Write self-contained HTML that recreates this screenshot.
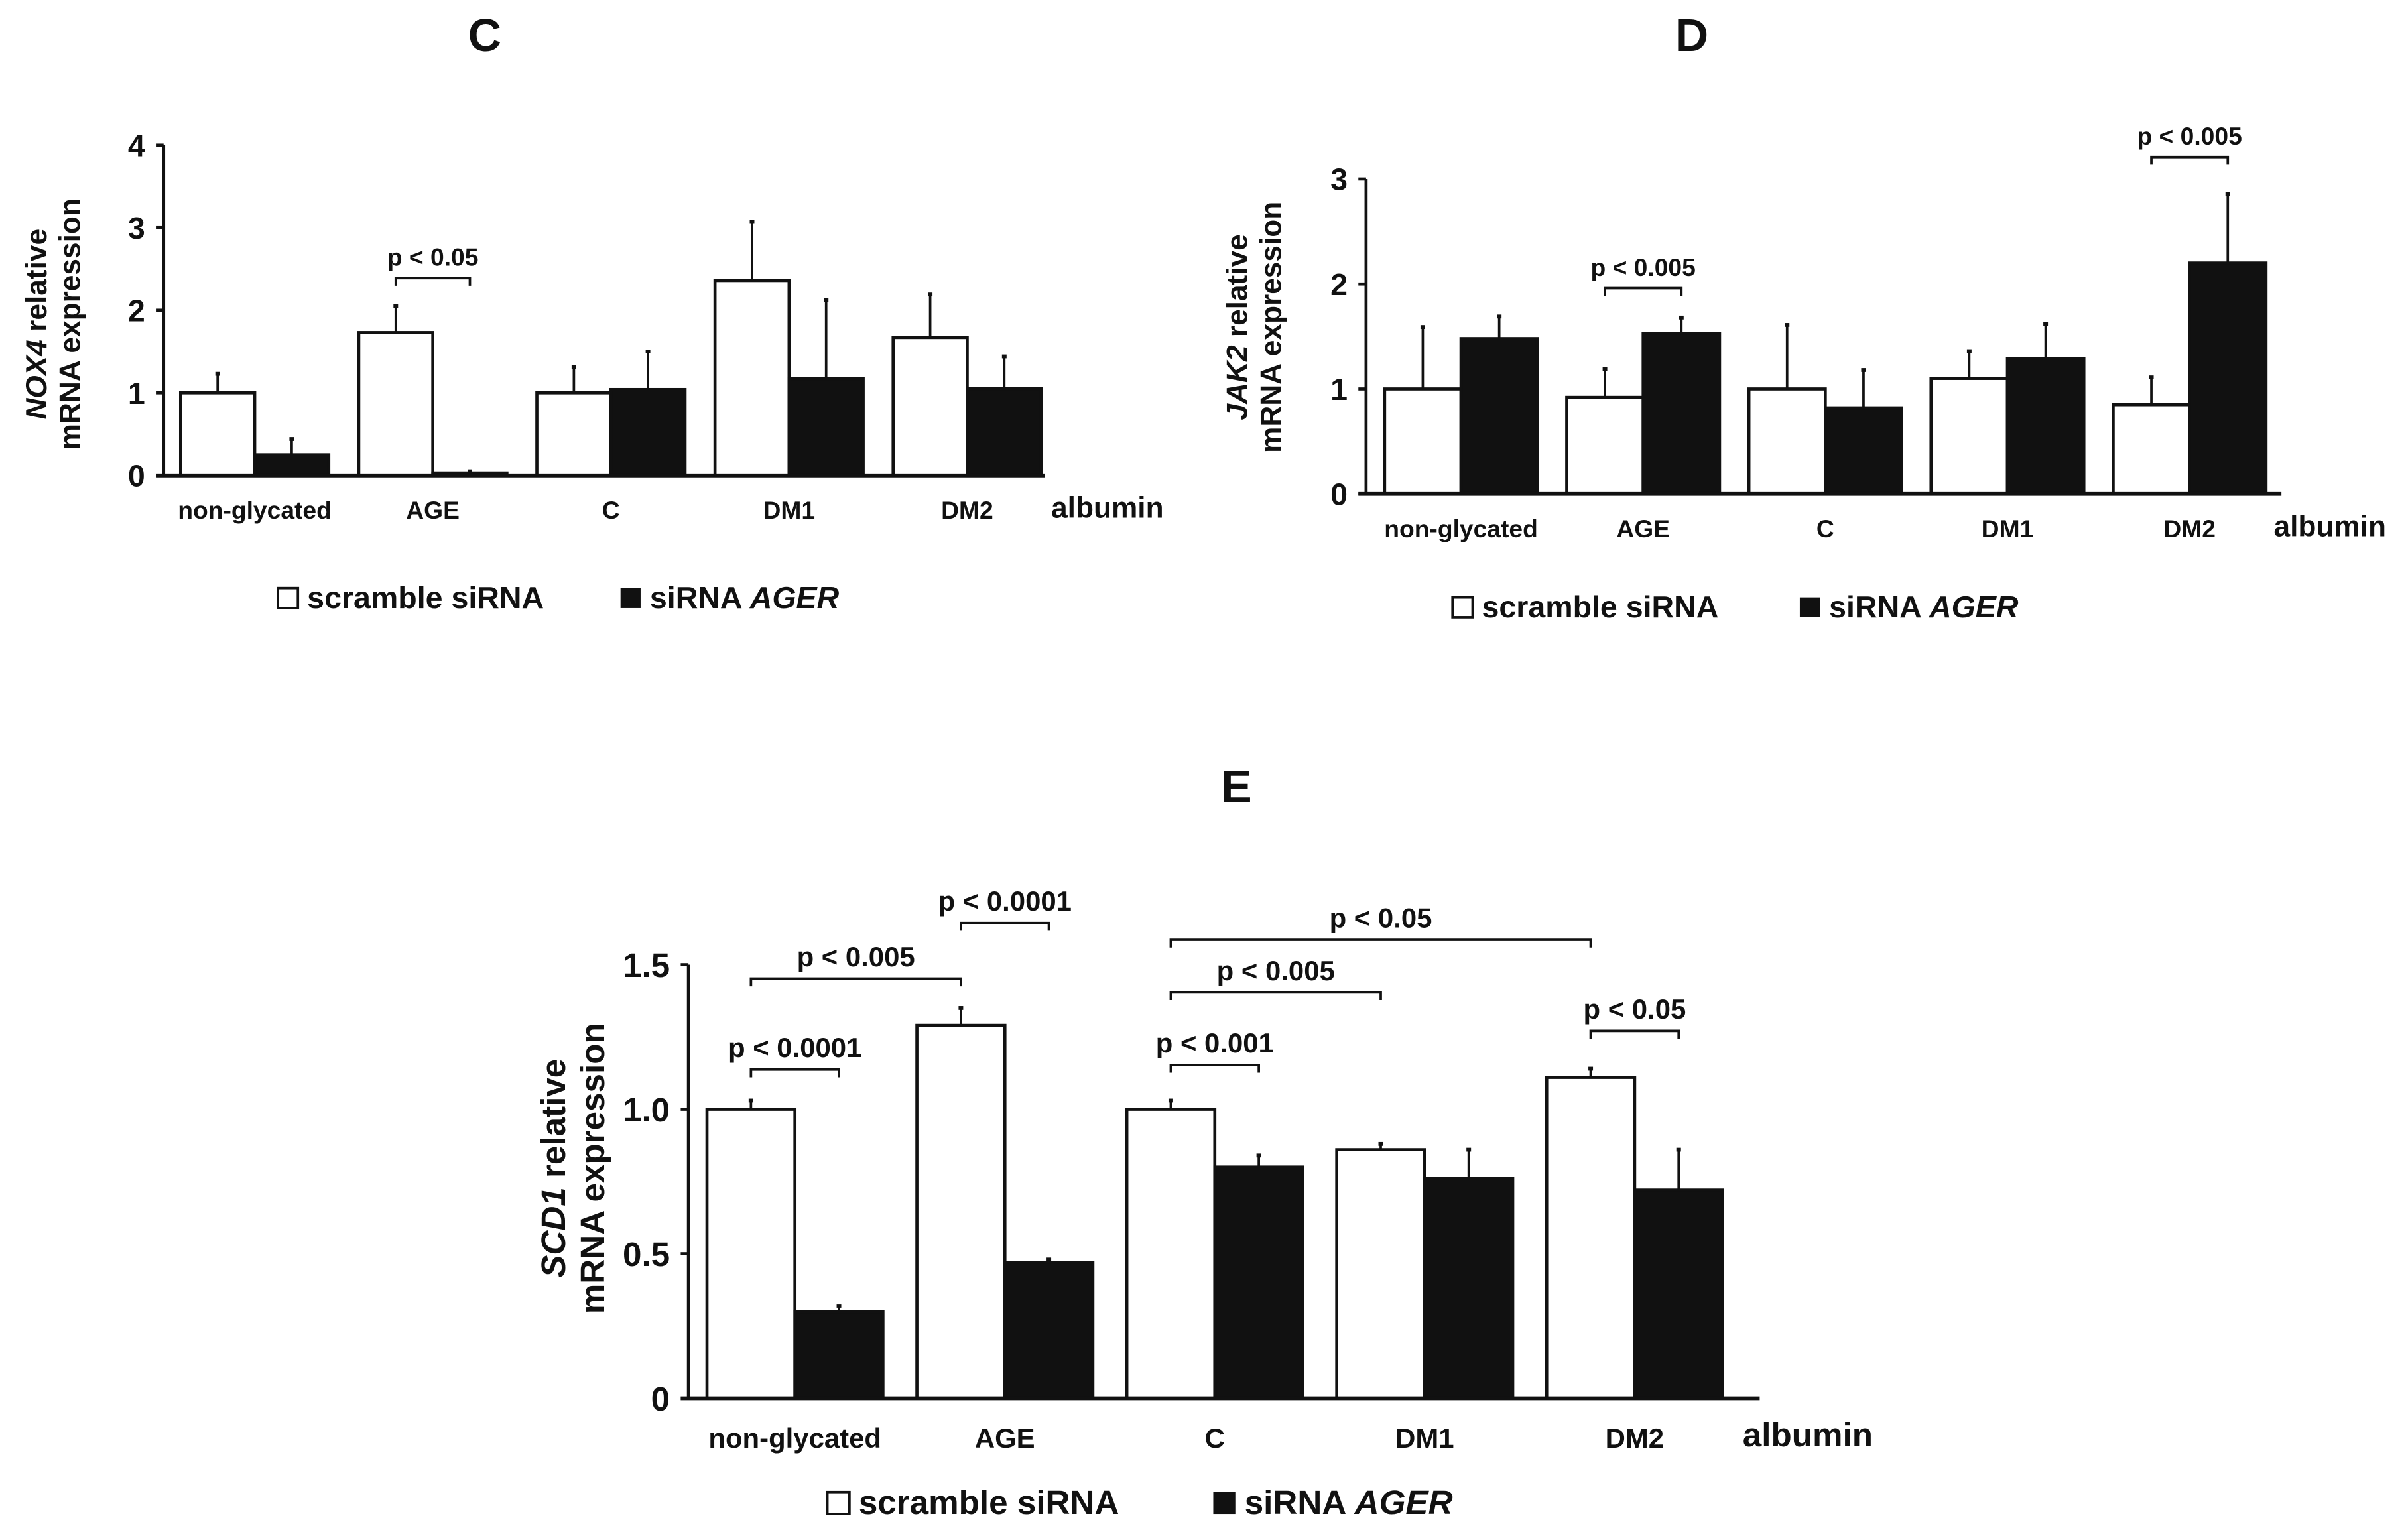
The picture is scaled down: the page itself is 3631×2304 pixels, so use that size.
<!DOCTYPE html>
<html><head><meta charset="utf-8"><style>
html,body{margin:0;padding:0;background:#fff;}
svg{display:block;}
text{font-family:"Liberation Sans",Arial,sans-serif;font-weight:bold;fill:#111;}
</style></head><body>
<svg id="fig" width="3631" height="2304" viewBox="0 0 1560 990" preserveAspectRatio="none" xmlns="http://www.w3.org/2000/svg"></svg>
<script>
const categories = ["non-glycated","AGE","C","DM1","DM2"];
// Panel C (NOX4)
const cScramble = [1.0, 1.73, 1.0, 2.36, 1.67];
const cScrambleErr = [0.23, 0.32, 0.31, 0.71, 0.52];
const cAger = [0.25, 0.03, 1.04, 1.17, 1.05];
const cAgerErr = [0.19, 0.02, 0.46, 0.95, 0.39];
const cTicks = ["0","1","2","3","4"];
const cTickVals = [0,1,2,3,4];
// Panel D (JAK2)
const dScramble = [1.0, 0.92, 1.0, 1.1, 0.85];
const dScrambleErr = [0.59, 0.27, 0.61, 0.26, 0.26];
const dAger = [1.48, 1.53, 0.82, 1.29, 2.2];
const dAgerErr = [0.21, 0.15, 0.36, 0.33, 0.66];
const dTicks = ["0","1","2","3"];
const dTickVals = [0,1,2,3];
// Panel E (SCD1)
const eScramble = [1.0, 1.29, 1.0, 0.86, 1.11];
const eScrambleErr = [0.03, 0.06, 0.03, 0.02, 0.03];
const eAger = [0.3, 0.47, 0.8, 0.76, 0.72];
const eAgerErr = [0.02, 0.01, 0.04, 0.1, 0.14];
const eTicks = ["0","0.5","1.0","1.5"];
const eTickVals = [0,0.5,1.0,1.5];
// significance brackets: [fromBar, toBar, yValue, label]  (bar index = group*2 + series)
const cBrackets = [[2,3,2.39,"p < 0.05"]];
const dBrackets = [[2,3,1.96,"p < 0.005"],[8,9,3.21,"p < 0.005"]];
const eBrackets = [[0,1,1.137,"p < 0.0001"],[0,2,1.452,"p < 0.005"],[2,3,1.644,"p < 0.0001"],[4,8,1.586,"p < 0.05"],[4,6,1.404,"p < 0.005"],[4,5,1.153,"p < 0.001"],[8,9,1.271,"p < 0.05"]];

const NS="http://www.w3.org/2000/svg";
const svg=document.getElementById('fig');
function el(tag,attrs,parent){const e=document.createElementNS(NS,tag);for(const k in attrs)e.setAttribute(k,attrs[k]);(parent||svg).appendChild(e);return e;}

function panel(o){
  const g=el('g',{});
  
  
  const y=v=>o.y0-(v/o.yMax)*(o.y0-o.yTop);
  const barX=(gi,s)=>o.x0+o.gap+gi*o.pitch+s*o.bw;
  const t=el('text',{x:o.titleX,y:o.titleY,'font-size':30,'text-anchor':'middle'},g);t.textContent=o.title;
  
  
  const series=[[o.s1,o.e1,'#fff','scramble'],[o.s2,o.e2,'#111','ager']];
  series.forEach((sr,si)=>{
    sr[0].forEach((v,gi)=>{
      const x=barX(gi,si);
      const cx=x+o.bw/2;
      const el1=el('line',{x1:cx,x2:cx,y1:y(v),y2:y(v+sr[1][gi]),stroke:'#111','stroke-width':1.6},g);
      
      
      el('line',{x1:cx-1.5,x2:cx+1.5,y1:y(v+sr[1][gi]),y2:y(v+sr[1][gi]),stroke:'#111','stroke-width':2.5},g);
      const r=el('rect',{x:x,y:y(v),width:o.bw,height:o.y0-y(v),fill:sr[2],stroke:'#111','stroke-width':2},g);
      
      
    });
  });
  const ya=el('line',{x1:o.x0,x2:o.x0,y1:o.yTop,y2:o.y0,stroke:'#111','stroke-width':2},g);
  
  
  const xa=el('line',{x1:o.x0-5,x2:o.xEnd,y1:o.y0,y2:o.y0,stroke:'#111','stroke-width':2.5},g);
  
  
  o.tickVals.forEach((tv,i)=>{
    el('line',{x1:o.x0-5,x2:o.x0,y1:y(tv),y2:y(tv),stroke:'#111','stroke-width':2},g);
    const tl=el('text',{x:o.x0-12,y:y(tv)+o.tfs*0.36,'font-size':o.tfs,'text-anchor':'end'},g);
    tl.textContent=o.ticks[i];
    
    
  });
  categories.forEach((c,gi)=>{
    const cl=el('text',{x:barX(gi,1),y:o.labY,'font-size':o.lfs,'text-anchor':'middle'},g);
    cl.textContent=c;
    
    
  });
  const al=el('text',{x:o.albX,y:o.labY-(o.albFs-o.lfs)*0.2,'font-size':o.albFs},g);al.textContent='albumin';
  
  
  const yt=el('text',{transform:`translate(${o.ytX},${o.ytY}) rotate(-90)`,'font-size':o.ytFs,'text-anchor':'middle'},g);
  
  
  const ts1=el('tspan',{x:0,y:0},yt);
  const it=el('tspan',{'font-style':'italic'},ts1);it.textContent=o.gene;
  const r2=el('tspan',{},ts1);r2.textContent=' relative';
  const ts2=el('tspan',{x:0,dy:o.ytFs*1.15},yt);ts2.textContent='mRNA expression';
  o.brackets.forEach(b=>{
    const xa1=barX(Math.floor(b[0]/2),b[0]%2)+o.bw/2;
    const xb=barX(Math.floor(b[1]/2),b[1]%2)+o.bw/2;
    const yy=y(b[2]);
    const p=el('path',{d:`M${xa1},${yy+5}V${yy}H${xb}V${yy+5}`,fill:'none',stroke:'#111','stroke-width':1.6},g);
    
    
    const pt=el('text',{x:(xa1+xb)/2,y:yy-8,'font-size':o.pfs,'text-anchor':'middle'},g);
    pt.textContent=b[3];
    
    
  });
  const lg=el('g',{},g);
  
  
  const bs=o.legFs*0.65;
  el('rect',{x:o.leg1,y:o.legY-bs,width:bs,height:bs,fill:'#fff',stroke:'#111','stroke-width':1.6},lg);
  const l1=el('text',{x:o.leg1+bs+6,y:o.legY,'font-size':o.legFs},lg);l1.textContent='scramble siRNA';
  
  
  el('rect',{x:o.leg2,y:o.legY-bs,width:bs,height:bs,fill:'#111'},lg);
  const l2=el('text',{x:o.leg2+bs+6,y:o.legY,'font-size':o.legFs},lg);
  
  
  const a=el('tspan',{},l2);a.textContent='siRNA ';
  const b2=el('tspan',{'font-style':'italic'},l2);b2.textContent='AGER';
}

panel({name:'panel-c-nox4',title:'C',titleX:314,titleY:33,gene:'NOX4',
  s1:cScramble,e1:cScrambleErr,s2:cAger,e2:cAgerErr,ticks:cTicks,tickVals:cTickVals,
  x0:106,xEnd:677,y0:308,yTop:94,yMax:4,gap:11,pitch:115.4,bw:48,tfs:20,lfs:16,
  labY:336,albX:681,albFs:19,ytX:30,ytY:210,ytFs:19,pfs:16,brackets:cBrackets,
  leg1:180,leg2:402,legY:394,legFs:20});
panel({name:'panel-d-jak2',title:'D',titleX:1096,titleY:33,gene:'JAK2',
  s1:dScramble,e1:dScrambleErr,s2:dAger,e2:dAgerErr,ticks:dTicks,tickVals:dTickVals,
  x0:885,xEnd:1478,y0:320,yTop:116,yMax:3,gap:12,pitch:118,bw:49.5,tfs:20,lfs:16,
  labY:348,albX:1473,albFs:19,ytX:808,ytY:212,ytFs:19,pfs:16,brackets:dBrackets,
  leg1:941,leg2:1166,legY:400,legFs:20});
panel({name:'panel-e-scd1',title:'E',titleX:801,titleY:520,gene:'SCD1',
  s1:eScramble,e1:eScrambleErr,s2:eAger,e2:eAgerErr,ticks:eTicks,tickVals:eTickVals,
  x0:446,xEnd:1140,y0:906,yTop:625,yMax:1.5,gap:12,pitch:136,bw:57,tfs:22,lfs:18,
  labY:938,albX:1129,albFs:22,ytX:366,ytY:757,ytFs:22,pfs:18,brackets:eBrackets,
  leg1:536,leg2:786,legY:981,legFs:22});
</script>
</body></html>
